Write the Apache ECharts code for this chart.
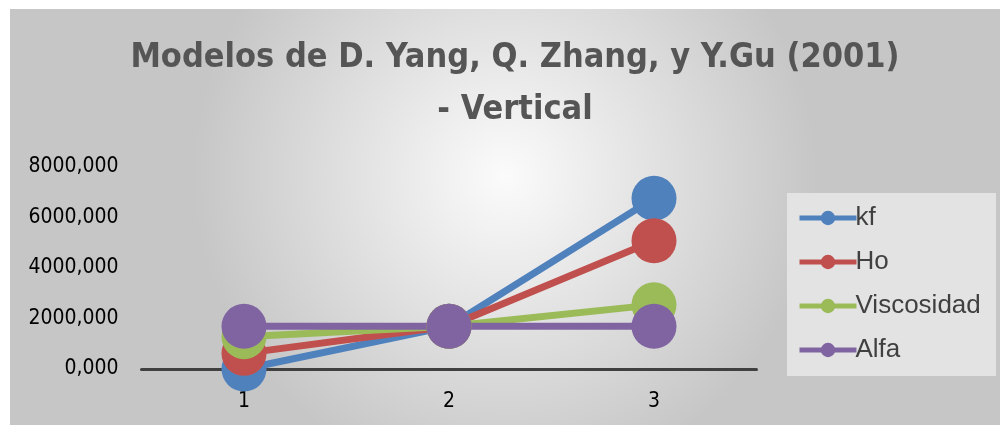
<!DOCTYPE html>
<html><head><meta charset="utf-8">
<script src="https://cdn.jsdelivr.net/npm/echarts@6/dist/echarts.min.js"></script>
<style>html,body{margin:0;padding:0;background:#fff;}#c{width:1000px;height:425px;}</style>
</head><body><div id="c"></div>
<script>
const categories = ['1', '2', '3'];
const kf = [0, 1690, 6760];
const ho = [620, 1690, 5080];
const viscosidad = [1280, 1690, 2540];
const alfa = [1690, 1690, 1690];
const seriesNames = ['kf', 'Ho', 'Viscosidad', 'Alfa'];
const colors = ['#4F81BD', '#C0504D', '#9BBB59', '#8064A2'];
const titleLines = ['Modelos de D. Yang, Q. Zhang, y Y.Gu (2001)', '- Vertical'];

const chart = echarts.init(document.getElementById('c'));
const data = [kf, ho, viscosidad, alfa];
const narrow = '"DejaVu Sans Condensed", sans-serif';
chart.setOption({
  animation: false,
  graphic: [{
    type: 'rect', z: -10, silent: true,
    shape: { x: 10, y: 9, width: 990, height: 416 },
    style: { fill: new echarts.graphic.RadialGradient(0.5, 0.4, 0.75, [
      { offset: 0, color: '#fbfbfb' }, { offset: 1, color: '#c6c6c6' }]) }
  }, {
    type: 'rect', z: -5, silent: true,
    shape: { x: 787, y: 193, width: 209, height: 183 },
    style: { fill: 'rgba(232,232,232,0.85)' }
  }],
  title: {
    text: titleLines.join('\n'), left: 510, top: 27, textAlign: 'center',
    textStyle: { fontFamily: narrow, fontWeight: 'bold', fontSize: 34, color: '#555555', lineHeight: 52 }
  },
  legend: {
    orient: 'vertical', left: 792, top: 200, itemGap: 18,
    itemWidth: 57, itemHeight: 18,
    lineStyle: { width: 5 },
    textStyle: { fontFamily: '"Liberation Sans", Arial, sans-serif', fontSize: 26, color: '#404040', padding: [0,0,0,-6] },
    data: seriesNames.map(n => ({ name: n, itemStyle: { borderWidth: 0 } }))
  },
  grid: { left: 141.5, right: 243.5, top: 167, bottom: 56 },
  xAxis: {
    type: 'category', data: categories, boundaryGap: true,
    axisLine: { lineStyle: { color: '#404040', width: 3 } },
    axisTick: { show: false },
    axisLabel: { fontFamily: narrow, fontSize: 21, color: '#000', margin: 22 }
  },
  yAxis: {
    type: 'value', min: 0, max: 8000, interval: 2000,
    axisLine: { show: false }, axisTick: { show: false }, splitLine: { show: false },
    axisLabel: { fontFamily: narrow, fontSize: 21, color: '#000', margin: 23,
      formatter: v => v + ',000' }
  },
  series: data.map((d, i) => ({
    name: seriesNames[i], type: 'line', data: d,
    color: colors[i], symbol: 'circle', symbolSize: 45,
    lineStyle: { width: 7, color: colors[i] },
    itemStyle: { color: colors[i] }
  }))
});
</script></body></html>
